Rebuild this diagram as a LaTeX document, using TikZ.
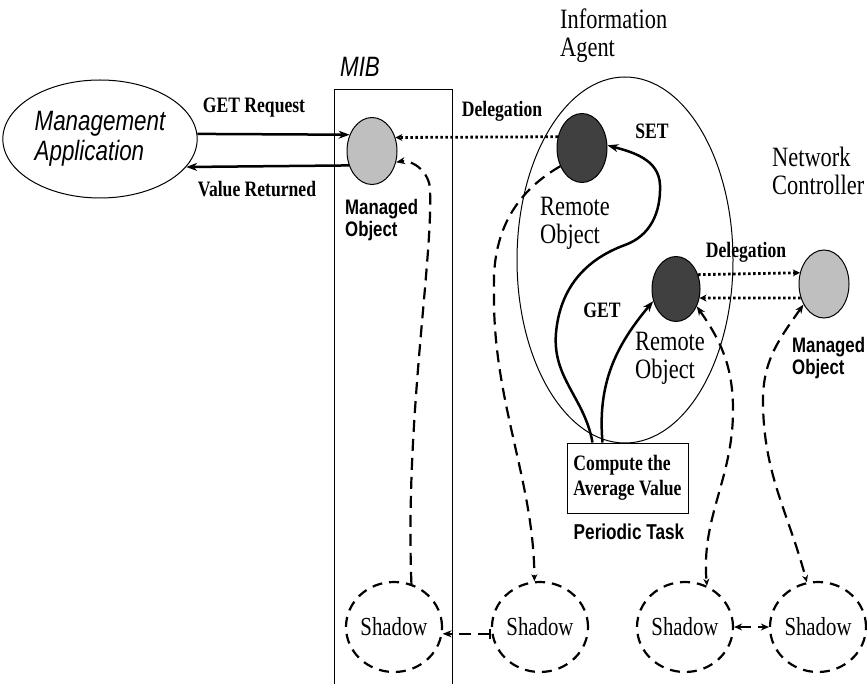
\documentclass[tikz,border=0pt]{standalone}
\usepackage{fontspec}
\setmainfont[FakeStretch=0.8]{Liberation Serif}
\setsansfont[FakeStretch=0.8]{Liberation Sans}
\usetikzlibrary{shapes.geometric,arrows.meta}

\begin{document}
\begin{tikzpicture}[x=1pt,y=1pt,
  obj/.style={ellipse,draw,line width=1,minimum width=50,minimum height=67,inner sep=0},
  mobj/.style={obj,fill=black!25},
  robj/.style={obj,fill=black!75},
  shadow/.style={ellipse,draw,line width=2.2,dash pattern=on 10 off 7,minimum width=96,minimum height=90,inner sep=0,font=\fontsize{26}{26}\selectfont},
  flow/.style={line width=2.5,-{Stealth[length=11,width=8]}},
  deleg/.style={line width=2.8,dash pattern=on 2.5 off 2.5,-{Stealth[length=7,width=7]}},
  sync/.style={line width=2.2,dash pattern=on 12 off 7},
  msg/.style={font=\bfseries\fontsize{22}{25}\selectfont},
  headtxt/.style={font=\fontsize{28}{28}\selectfont,align=left,anchor=north west,inner sep=0},
  objlbl/.style={font=\sffamily\bfseries\fontsize{21}{22}\selectfont,align=left,anchor=north west,inner sep=0}
]
\useasboundingbox (0,0) rectangle (867,-684);

\node[ellipse,draw,line width=1,minimum width=176,minimum height=118,align=left,
  font=\sffamily\itshape\fontsize{28}{30}\selectfont] (app) at (100,-139) {Management\\Application};

\draw[line width=1] (334,-90) rectangle (452,-700);
\node[font=\sffamily\itshape\fontsize{28}{28}\selectfont] (mibl) at (360,-67) {MIB};
\node[mobj] (mo1) at (372,-151) {};
\node[objlbl] (mo1l) at (345,-199) {Managed\\Object};

\node[ellipse,draw,line width=1,minimum width=216,minimum height=366] (ia) at (625,-260) {};
\node[headtxt] (ial) at (560,-9) {Information\\Agent};
\node[robj,minimum height=69] (ro1) at (582,-148) {};
\node[headtxt] (ro1l) at (540,-197) {Remote\\Object};
\node[robj,minimum width=48,minimum height=65] (ro2) at (676,-289) {};
\node[headtxt] (ro2l) at (635,-332) {Remote\\Object};

\node[headtxt] (ncl) at (772,-147) {Network\\Controller};
\node[mobj,minimum height=68] (mo2) at (824,-284) {};
\node[objlbl] (mo2l) at (792,-337) {Managed\\Object};

\node[draw,line width=1,minimum width=121,minimum height=70,align=left,msg] (task) at (627.5,-478) {Compute the\\Average Value};
\node[font=\sffamily\bfseries\fontsize{21.5}{22}\selectfont] (taskl) at (629,-532) {Periodic Task};

\node[shadow] (sh1) at (394,-627) {Shadow};
\node[shadow] (sh2) at (540,-627) {Shadow};
\node[shadow] (sh3) at (685,-627) {Shadow};
\node[shadow] (sh4) at (818,-627) {Shadow};

\draw[flow] (app.3) -- (mo1.144);
\draw[flow] (mo1.212) -- (app.-18);
\node[msg] (getreq) at (254,-108) {GET Request};
\node[msg] (valret) at (257,-189) {Value Returned};

\draw[deleg] (ro1.155) -- (mo1.30);
\node[msg] (del1) at (502,-111) {Delegation};

\draw[flow] ([xshift=-35]task.north) to[out=100,in=-95] (556,-333) to[out=85,in=200] (625,-245)
  to[out=20,in=-88] (660,-185) to[out=92,in=-15] (ro1.6);
\node[msg] (setl) at (652,-131) {SET};
\draw[flow] ([xshift=-25]task.north) to[out=95,in=230] (ro2.208);
\node[msg] (getl) at (602,-310) {GET};

\draw[deleg] (ro2.33) -- (mo2.155);
\draw[deleg] (mo2.211) -- (ro2.-21);
\node[msg] (del2) at (746,-252) {Delegation};

\draw[sync,-{Stealth[length=9,width=7]}] (sh1.68) .. controls (405,-420) and (433,-260) .. (430,-190)
  to[out=90,in=10] (mo1.-25);
\draw[sync,-{Stealth[length=7,width=6]}] (ro1.220) to[out=210,in=92] (494,-290)
  .. controls (492,-400) and (534,-480) .. (sh2.97);
\draw[sync,{Stealth[length=9,width=7]}-{Stealth[length=7,width=6]}] (ro2.-40) to[out=-55,in=90] (733,-410)
  to[out=-90,in=95] (sh3.62);
\draw[sync,{Stealth[length=9,width=7]}-{Stealth[length=7,width=6]}] (mo2.225) to[out=235,in=90] (763,-400)
  to[out=-90,in=105] (sh4.104);
\draw[sync,{Bar[width=10]}-{Stealth[length=9,width=7]}] (sh2.188) -- (sh1.-8);
\draw[sync,{Stealth[length=8,width=7]}-{Stealth[length=8,width=7]}] (sh3.east) -- (sh4.west);
\end{tikzpicture}
\end{document}
